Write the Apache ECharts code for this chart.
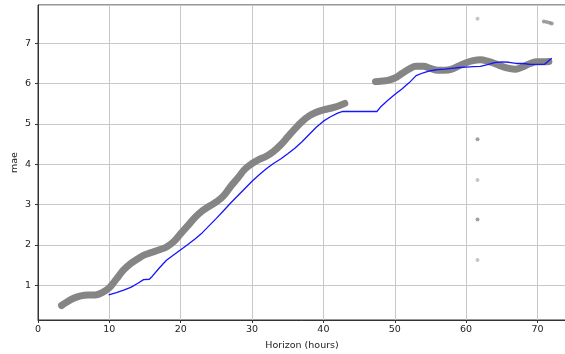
<!DOCTYPE html>
<html>
<head>
<meta charset="utf-8">
<script src="https://cdn.jsdelivr.net/npm/echarts@6/dist/echarts.min.js"></script>
<style>
  html, body { margin: 0; padding: 0; background: #fff; }
  #chart { width: 565px; height: 354px; }
</style>
</head>
<body>
<div id="chart"></div>
<script>
// mae per horizon, grey points (first block, then second block after the gap)
var greyX1 = [3.3, 4, 5, 6, 7, 8, 9, 10, 11, 12, 13, 14, 15, 16, 17, 18, 19, 20, 21, 22, 23, 24, 25, 26, 27, 28, 29, 30, 31, 32, 33, 34, 35, 36, 37, 38, 39, 40, 41, 42, 43];
var greyY1 = [0.50, 0.58, 0.68, 0.74, 0.76, 0.76, 0.82, 0.94, 1.16, 1.38, 1.54, 1.66, 1.76, 1.82, 1.88, 1.95, 2.08, 2.28, 2.48, 2.68, 2.84, 2.96, 3.07, 3.22, 3.45, 3.66, 3.88, 4.02, 4.12, 4.20, 4.32, 4.48, 4.68, 4.88, 5.06, 5.20, 5.29, 5.35, 5.39, 5.44, 5.51];
var greyX2 = [47.3, 48, 49, 50, 51, 52, 53, 54, 55, 56, 57, 58, 59, 60, 61, 62, 63, 64, 65, 66, 67, 68, 69, 70, 71, 71.6];
var greyY2 = [6.05, 6.06, 6.08, 6.14, 6.25, 6.36, 6.43, 6.43, 6.38, 6.33, 6.33, 6.36, 6.44, 6.52, 6.57, 6.59, 6.56, 6.50, 6.43, 6.38, 6.36, 6.42, 6.50, 6.54, 6.54, 6.55];

// stray points
var outX = [61.6, 61.6, 61.6, 61.6, 61.6, 70.9, 71.3, 71.7, 72.0];
var outY = [7.61, 4.62, 3.61, 2.63, 1.63, 7.54, 7.53, 7.51, 7.49];
var outDark = [false, true, false, true, false, true, true, true, true];

// rolling mean (blue)
var meanX = [9.9, 11, 12, 13, 14, 14.8, 15.6, 16, 17, 18, 19, 20, 21, 22, 23, 24, 25, 26, 27, 28, 29, 30, 31, 32, 33, 34, 35, 36, 37, 38, 39, 40, 41, 42, 42.7, 47.5, 48, 49, 50, 51, 52, 53, 54, 55, 56, 57, 58, 59, 60, 61, 62, 63, 64, 65, 66, 67, 68, 69, 70, 71, 72];
var meanY = [0.76, 0.82, 0.88, 0.95, 1.05, 1.14, 1.15, 1.22, 1.43, 1.62, 1.75, 1.88, 2.01, 2.15, 2.30, 2.48, 2.66, 2.85, 3.04, 3.22, 3.40, 3.58, 3.74, 3.89, 4.02, 4.13, 4.26, 4.40, 4.56, 4.74, 4.92, 5.07, 5.18, 5.27, 5.31, 5.31, 5.42, 5.58, 5.73, 5.87, 6.02, 6.20, 6.27, 6.32, 6.35, 6.36, 6.38, 6.40, 6.41, 6.42, 6.43, 6.47, 6.52, 6.54, 6.53, 6.50, 6.50, 6.48, 6.48, 6.48, 6.63];

function pairs(xs, ys) {
  var out = [];
  for (var i = 0; i < xs.length; i++) out.push([xs[i], ys[i]]);
  return out;
}

var outData = [];
for (var i = 0; i < outX.length; i++) {
  outData.push({
    value: [outX[i], outY[i]],
    itemStyle: { color: outDark[i] ? '#8a8a8a' : '#b8b8b8' }
  });
}

var txt = { color: '#222', fontSize: 9.5, fontFamily: 'DejaVu Sans' };

var myChart = echarts.init(document.getElementById('chart'));
var option = {
  animation: false,
  backgroundColor: '#fff',
  grid: {
    left: 38, right: -1, top: 5, bottom: 34,
    containLabel: false,
    outerBoundsMode: 'none',
    show: true, borderColor: '#333', borderWidth: 1
  },
  xAxis: {
    type: 'value',
    min: 0, max: 74.0, splitNumber: 7,
    name: 'Horizon (hours)',
    nameLocation: 'middle', nameGap: 21,
    nameMoveOverlap: false,
    nameTextStyle: txt,
    axisLine: { show: true, onZero: false, lineStyle: { color: '#333', width: 1 } },
    axisTick: { show: true, length: 3, lineStyle: { color: '#333' } },
    axisLabel: { color: '#222', fontSize: 9.5, fontFamily: 'DejaVu Sans', margin: 5, showMaxLabel: false },
    splitLine: { show: true, lineStyle: { color: '#c8c8c8', width: 1 } }
  },
  yAxis: {
    type: 'value',
    min: 0.14, max: 7.95, splitNumber: 7,
    name: 'mae',
    nameLocation: 'middle', nameGap: 18,
    nameMoveOverlap: false,
    nameTextStyle: txt,
    axisLine: { show: true, onZero: false, lineStyle: { color: '#333', width: 1 } },
    axisTick: { show: true, length: 3, lineStyle: { color: '#333' } },
    axisLabel: { color: '#222', fontSize: 9.5, fontFamily: 'DejaVu Sans', margin: 7, showMinLabel: false, showMaxLabel: false },
    splitLine: { show: true, lineStyle: { color: '#c8c8c8', width: 1 } }
  },
  series: [
    {
      type: 'line', data: pairs(greyX1, greyY1), smooth: 0.4, showSymbol: false,
      lineStyle: { color: '#858585', width: 7, cap: 'round', join: 'round' }
    },
    {
      type: 'line', data: pairs(greyX2, greyY2), smooth: 0.4, showSymbol: false,
      lineStyle: { color: '#858585', width: 7, cap: 'round', join: 'round' }
    },
    {
      type: 'scatter', data: outData, symbolSize: 4
    },
    {
      type: 'line', data: pairs(meanX, meanY), showSymbol: false,
      lineStyle: { color: '#1414ff', width: 1.3 }
    }
  ]
};
myChart.setOption(option);
window.addEventListener('resize', function () {
  myChart.resize();
});
</script>
</body>
</html>
